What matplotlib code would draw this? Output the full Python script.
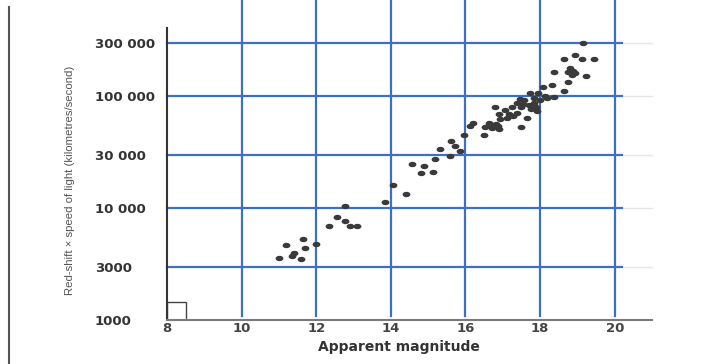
import numpy as np
import matplotlib
matplotlib.use('Agg')
import matplotlib.pyplot as plt
from matplotlib.path import Path
from matplotlib.patches import Rectangle
from matplotlib.transforms import Affine2D
from matplotlib.lines import Line2D

# apparent magnitude of each galaxy
magnitude = [11.0, 11.2, 11.4, 11.35, 11.6, 11.65, 11.7, 12.0, 12.35, 12.57,
             12.76, 12.9, 13.09, 12.78, 13.84, 14.05, 14.41, 14.57, 14.82, 14.88,
             15.12, 15.18, 15.33, 15.58, 15.62, 15.73, 15.86, 15.97, 16.12, 16.19,
             16.5,
             16.53, 16.62, 16.7, 16.64, 16.74, 16.81, 16.87, 16.91,
             16.78, 16.91, 16.93, 17.06, 17.12, 17.16, 17.24, 17.28, 17.37, 17.37,
             17.45, 17.49, 17.48, 17.53, 17.58, 17.66, 17.7, 17.74, 17.76, 17.83,
             17.84, 17.89, 17.91, 17.95, 17.99, 18.08, 18.12, 18.18, 18.33, 18.38,
             19.15, 18.93, 18.65, 19.12, 19.44, 18.8, 18.76, 18.89, 18.93, 18.85,
             18.38, 19.23, 18.74, 18.65]
# red-shift x c (km/s)
velocity = [3600, 4700, 4000, 3700, 3500, 5300, 4400, 4800, 6900, 8300,
            7700, 6900, 6900, 10500, 11400, 16000, 13400, 25000, 20500, 24000,
            21000, 27500, 34000, 29300, 40000, 35600, 32600, 45000, 54200, 57400,
            44700,
            52800, 55700, 52100, 58200, 55700, 57000, 54000, 50900,
            79600, 69700, 62700, 75000, 63700, 69700, 80700, 66000, 71300, 87100,
            93800, 79600, 52800, 85700, 92200, 63700, 84400, 107700, 76700, 95700,
            87000, 80500, 73600, 106000, 93600, 121000, 100600, 95700, 125000, 99400,
            298000, 233000, 214000, 214000, 214000, 178000, 166000, 169000, 162000, 155000,
            164000, 153000, 134000, 112000]

xticks = [8, 10, 12, 14, 16, 18, 20]
yticks = [1000, 3000, 10000, 30000, 100000, 300000]
ylabels = ['1000', '3000', '10 000', '30 000', '100 000', '300 000']

blue = '#3f6fbf'

fig = plt.figure(figsize=(7.01, 3.64), dpi=100)
ax = fig.add_axes([167/701, 1-320/364, 485/701, 292/364])

# dots are slightly flattened ellipses
dot = Path.unit_circle().transformed(Affine2D().scale(1, 0.62))
ax.plot(magnitude, velocity, linestyle='none', marker=dot, markersize=4.6,
        color='#3a3a3a', zorder=3)

ax.set_yscale('log')
ax.set_xlim(8, 21)
ax.set_ylim(1000, 408000)

ax.set_xticks(xticks)
ax.set_xticklabels([str(t) for t in xticks], fontsize=9.5, fontweight='bold', color='#444444')
ax.set_yticks(yticks)
ax.set_yticklabels(ylabels, fontsize=9.5, fontweight='bold', color='#333333')
ax.yaxis.set_minor_locator(matplotlib.ticker.NullLocator())
ax.tick_params(axis='both', length=0)
ax.tick_params(axis='x', pad=1.5)
ax.tick_params(axis='y', pad=52)
for lab in ax.get_yticklabels():
    lab.set_horizontalalignment('left')

for s in ['top', 'right']:
    ax.spines[s].set_visible(False)
ax.spines['left'].set_color('#333333')
ax.spines['left'].set_linewidth(1.5)
ax.spines['bottom'].set_color('#7a7a7a')
ax.spines['bottom'].set_linewidth(1.5)

# hand drawn blue grid, running past the axes
for t in xticks[1:]:
    ax.axvline(t, ymin=0.014, ymax=1.1, color=blue, lw=1.6, clip_on=False, zorder=2)
for t in yticks[1:]:
    ax.axhline(t, xmin=0, xmax=0.938, color=blue, lw=1.6, clip_on=False, zorder=2)
    ax.axhline(t, xmin=0.938, xmax=1.0, color='#e6e6e6', lw=1.0, clip_on=False, zorder=1)

ax.add_patch(Rectangle((0, 0), 0.039, 0.062, transform=ax.transAxes,
                       fill=False, edgecolor='#444444', lw=1.0))

ax.set_xlabel('Apparent magnitude', fontsize=10, fontweight='bold', color='#333333')
ax.xaxis.set_label_coords(399/701, 1-347/364, transform=fig.transFigure)
ax.xaxis.label.set_verticalalignment('center')
fig.text(70/701, 1-180/364, 'Red-shift × speed of light (kilometres/second)',
         rotation=90, ha='center', va='center', fontsize=8.2, color='#555555',
         family=['DejaVu Sans Condensed', 'Liberation Sans Narrow', 'Liberation Sans'],
         fontstretch='condensed')

# left edge of the scanned page
fig.add_artist(Line2D([9/701, 9/701], [0, 1-7/364], transform=fig.transFigure,
                      color='#555555', lw=1.5))

fig.savefig('out.png', dpi=100)
